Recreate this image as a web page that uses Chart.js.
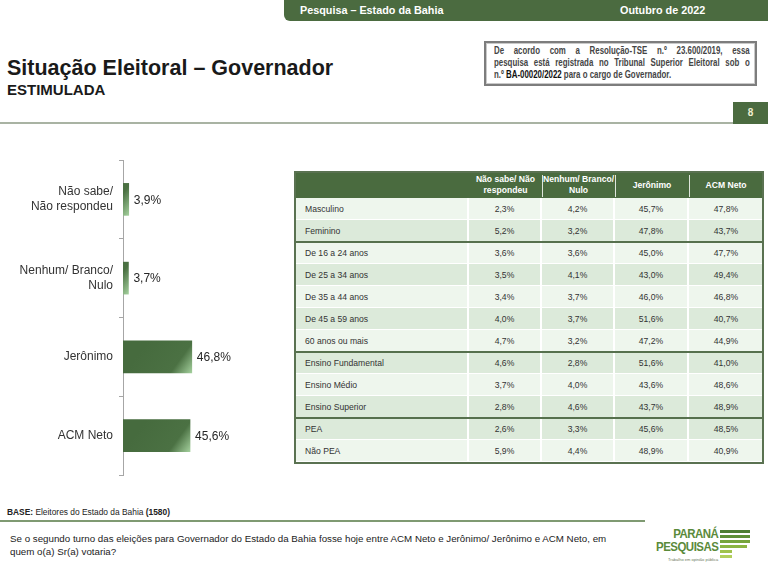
<!DOCTYPE html>
<html><head><meta charset="utf-8">
<script src="https://cdn.jsdelivr.net/npm/chart.js@4.4.0/dist/chart.umd.min.js"></script>
<style>
html,body{margin:0;padding:0;}
body{width:768px;height:571px;background:#fff;position:relative;overflow:hidden;font-family:"Liberation Sans",Arial,sans-serif;color:#333;}
.abs{position:absolute;}
#hdr{left:284px;top:0;width:484px;height:21px;background:#4b6b40;border-bottom-left-radius:6px;}
.hdrtxt{color:#fff;font-weight:bold;font-size:10.8px;top:4px;}
#title{left:7px;top:56px;font-size:21.5px;font-weight:bold;color:#1a1a1a;white-space:nowrap;}
#sub{left:7px;top:81px;font-size:15px;font-weight:bold;color:#1a1a1a;}
#tse{left:484px;top:41px;width:273px;height:45px;box-sizing:border-box;border:2px solid #7d7d7d;box-shadow:inset 0 0 0 1px #c9c9c9;}
#tsein{left:8px;top:1px;width:341px;transform:scaleX(0.75);transform-origin:0 0;font-size:10.5px;font-weight:bold;color:#454545;line-height:12px;}
#tsein div{white-space:nowrap;}
#tsein .j{text-align:justify;text-align-last:justify;white-space:normal;}
#hline{left:0;top:122px;width:733px;height:2px;background:#a9b3a3;}
#pg{left:733px;top:102px;width:35px;height:22px;background:#4b6b40;color:#f0efd2;font-weight:bold;font-size:10px;text-align:center;line-height:22px;}
#chartwrap{left:0;top:150px;width:290px;height:330px;}
#tbl{left:295px;top:172px;width:468px;height:291px;}
.cell{position:absolute;box-sizing:border-box;font-size:8.6px;display:flex;align-items:center;}
.hcell{color:#fff;font-weight:bold;justify-content:center;text-align:center;line-height:11px;white-space:pre-line;}
#base{left:7px;top:507px;font-size:8.4px;color:#222;}
#fline{left:0;top:520px;width:645px;height:1.5px;background:#7f9a72;}
#q{left:10px;top:532px;font-size:9.75px;color:#222;line-height:13px;white-space:nowrap;}
#logo{left:660px;top:526px;width:92px;height:40px;}
</style></head><body>

<div id="hdr" class="abs"></div>
<div class="abs hdrtxt" style="left:300px">Pesquisa – Estado da Bahia</div>
<div class="abs hdrtxt" style="left:620px">Outubro de 2022</div>

<div id="title" class="abs">Situação Eleitoral – Governador</div>
<div id="sub" class="abs">ESTIMULADA</div>

<div id="tse" class="abs"><div id="tsein" class="abs">
<div class="j">De acordo com a Resolução-TSE n.º 23.600/2019, essa</div>
<div class="j">pesquisa está registrada no Tribunal Superior Eleitoral sob o</div>
<div>n.º <span style="color:#111">BA-00020/2022</span> para o cargo de Governador.</div>
</div></div>

<div id="hline" class="abs"></div>
<div id="pg" class="abs">8</div>

<div id="chartwrap" class="abs"><canvas id="c" width="290" height="330"></canvas></div>

<div id="tbl" class="abs"></div>

<div id="base" class="abs"><b>BASE:</b> Eleitores do Estado da Bahia <b>(1580)</b></div>
<div id="fline" class="abs"></div>
<div id="q" class="abs">Se o segundo turno das eleições para Governador do Estado da Bahia fosse hoje entre ACM Neto e Jerônimo/ Jerônimo e ACM Neto, em<br>quem o(a) Sr(a) votaria?</div>

<div id="logo" class="abs">
  <div class="abs" style="right:34px;top:2px;font-weight:bold;font-size:13.5px;color:#5a8a3a;letter-spacing:-0.6px;line-height:12.5px;text-align:right;transform:scaleX(0.85);transform-origin:100% 0;">PARANÁ<br>PESQUISAS</div>
  <div class="abs" style="left:60px;top:4px;width:30px;height:3px;background:#4e7d33"></div>
  <div class="abs" style="left:60px;top:9px;width:30px;height:3px;background:#5f9038"></div>
  <div class="abs" style="left:60px;top:14px;width:30px;height:3px;background:#76a43c"></div>
  <div class="abs" style="left:60px;top:19px;width:27px;height:3px;background:#8cb543"></div>
  <div class="abs" style="left:60px;top:24px;width:12px;height:3px;background:#9fc24c"></div>
  <div class="abs" style="left:60px;top:29px;width:12px;height:3px;background:#b2cf5c"></div>
  <div class="abs" style="left:8px;top:31px;font-size:4px;color:#6b7b5a;white-space:nowrap;">Trabalho em opinião pública</div>
</div>

<script>
// ---- Chart data ----
const categories = [["Não sabe/", "Não respondeu"], ["Nenhum/ Branco/", "Nulo"], "Jerônimo", "ACM Neto"];
const values = [3.9, 3.7, 46.8, 45.6];

// ---- Table data ----
const tableHeaders = [["Não sabe/ Não", "respondeu"], ["Nenhum/ Branco/", "Nulo"], ["Jerônimo"], ["ACM Neto"]];
const segments = ["Masculino", "Feminino", "De 16 a 24 anos", "De 25 a 34 anos", "De 35 a 44 anos", "De 45 a 59 anos", "60 anos ou mais", "Ensino Fundamental", "Ensino Médio", "Ensino Superior", "PEA", "Não PEA"];
const naoSabe = [2.3, 5.2, 3.6, 3.5, 3.4, 4.0, 4.7, 4.6, 3.7, 2.8, 2.6, 5.9];
const nenhum = [4.2, 3.2, 3.6, 4.1, 3.7, 3.7, 3.2, 2.8, 4.0, 4.6, 3.3, 4.4];
const jeronimo = [45.7, 47.8, 45.0, 43.0, 46.0, 51.6, 47.2, 51.6, 43.6, 43.7, 45.6, 48.9];
const acmNeto = [47.8, 43.7, 47.7, 49.4, 46.8, 40.7, 44.9, 41.0, 48.6, 48.9, 48.5, 40.9];
const groupStarts = [2, 7, 10];

const fmt = v => v.toFixed(1).replace('.', ',') + '%';

// ---- Build table ----
(function(){
  const tbl = document.getElementById('tbl');
  const colX = [0, 174, 247, 320, 394, 468];
  const headH = 26, rowH = 22;
  const shade = ['L','D','L','D','L','D','L','D','L','D','D','L'];
  const add = (html, css, cls) => { const d = document.createElement('div'); d.className = cls || 'cell'; d.style.cssText = css; d.innerHTML = html; tbl.appendChild(d); return d; };
  add('', `left:0;top:0;width:468px;height:${headH}px;background:#4a6b3f;`);
  tableHeaders.forEach((h, i) => {
    add(h.join('\n'), `left:${colX[i+1]}px;top:0;width:${colX[i+2]-colX[i+1]}px;height:${headH}px;`, 'cell hcell');
    if (i > 0) add('', `left:${colX[i+1]}px;top:3px;width:1px;height:${headH-4}px;background:#dfe6dc;`);
  });
  const cols = [naoSabe, nenhum, jeronimo, acmNeto];
  segments.forEach((s, r) => {
    const top = headH + r * rowH;
    const bg = shade[r] === 'L' ? '#eef6ed' : '#dceada';
    add(s, `left:0;top:${top}px;width:${colX[1]}px;height:${rowH}px;background:${bg};padding-left:10px;border-right:2px solid #fff;border-bottom:1px solid #fff;color:#333;`);
    cols.forEach((c, i) => {
      add(fmt(c[r]), `left:${colX[i+1]}px;top:${top}px;width:${colX[i+2]-colX[i+1]}px;height:${rowH}px;background:${bg};justify-content:center;border-right:${i<3?2:0}px solid #fff;border-bottom:1px solid #fff;color:#333;`);
    });
  });
  groupStarts.forEach(g => add('', `left:0;top:${headH + g*rowH - 1}px;width:468px;height:2px;background:#56704d;`));
  add('', `left:-1px;top:-1px;width:470px;height:293px;border:2px solid #5a7251;background:transparent;box-sizing:border-box;`);
})();

// ---- Chart ----
const labelPlugin = {
  id: 'valueLabels',
  afterDatasetsDraw(chart) {
    const ctx = chart.ctx;
    ctx.save();
    ctx.font = '12px "Liberation Sans", Arial, sans-serif';
    ctx.fillStyle = '#262626';
    ctx.textBaseline = 'middle';
    ctx.textAlign = 'left';
    chart.getDatasetMeta(0).data.forEach((bar, i) => {
      ctx.fillText(fmt(values[i]), bar.x + 5, bar.y + 1);
    });
    ctx.restore();
  }
};

new Chart(document.getElementById('c'), {
  type: 'bar',
  data: {
    labels: categories,
    datasets: [{
      data: values,
      barThickness: 32,
      borderWidth: 0,
      backgroundColor: (ctx) => {
        const chart = ctx.chart;
        if (!chart.chartArea || ctx.type !== 'data') return '#476c3f';
        const xs = chart.scales.x, ys = chart.scales.y;
        const x1 = xs.getPixelForValue(ctx.raw);
        const yc = ys.getPixelForValue(ctx.dataIndex);
        const g = chart.ctx.createLinearGradient(x1 - 44, yc - 16, x1, yc + 16);
        g.addColorStop(0, '#466b3e');
        g.addColorStop(0.68, '#4b7143');
        g.addColorStop(1, '#a3cf9c');
        return g;
      }
    }]
  },
  options: {
    indexAxis: 'y',
    responsive: false,
    animation: false,
    devicePixelRatio: 1,
    layout: { padding: { top: 10, bottom: 5, right: 20, left: 0 } },
    plugins: { legend: { display: false }, tooltip: { enabled: false } },
    scales: {
      x: { display: false, min: 0, max: 100 },
      y: {
        afterFit: (s) => { s.width = 123; s.paddingTop = 0; s.paddingBottom = 0; },
        grid: { drawOnChartArea: false, drawTicks: true, tickLength: 4, color: '#a6a6a6', offset: true },
        border: { display: true, color: '#a6a6a6', width: 1 },
        ticks: { padding: 6, color: '#333', font: { size: 12, family: '"Liberation Sans", Arial, sans-serif', lineHeight: 1.2 } }
      }
    }
  },
  plugins: [labelPlugin]
});
</script>
</body></html>
